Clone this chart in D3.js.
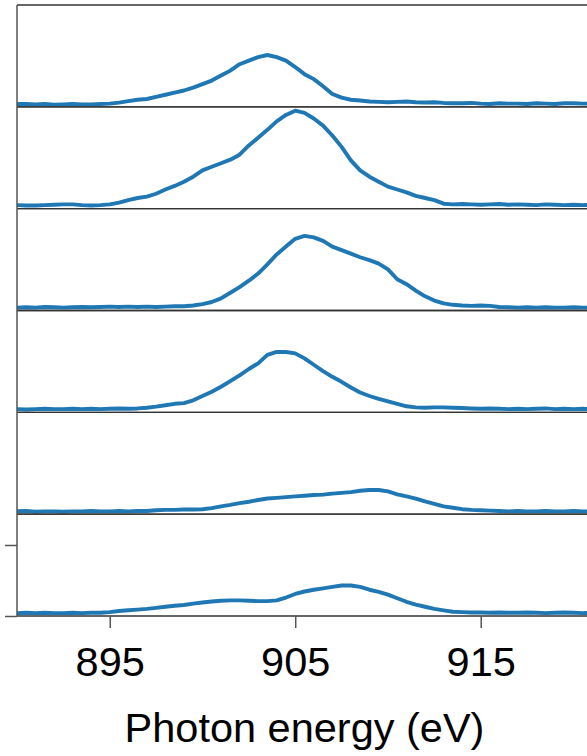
<!DOCTYPE html>
<html>
<head>
<meta charset="utf-8">
<script src="https://cdn.jsdelivr.net/npm/d3@7"></script>
<style>
  html, body { margin: 0; padding: 0; background: #fff; }
  svg { display: block; }
  text { font-family: "Liberation Sans", Arial, Helvetica, sans-serif; fill: #000; }
</style>
</head>
<body>
<svg id="chart" width="587" height="756"></svg>
<script>
// ---- data ----
const energyStart = 890, energyStep = 0.5; // grid: 890 ... 921 eV
const energies = d3.range(63).map(i => energyStart + i * energyStep);

const spectrum1 = [0.04,0.04,0.035,0.04,0.03,0.035,0.04,0.035,0.035,0.04,0.045,0.06,0.08,0.10,0.11,0.14,0.17,0.20,0.23,0.27,0.32,0.37,0.44,0.51,0.60,0.65,0.70,0.73,0.70,0.65,0.56,0.46,0.39,0.29,0.18,0.13,0.10,0.09,0.075,0.07,0.065,0.07,0.075,0.065,0.06,0.065,0.055,0.05,0.05,0.055,0.045,0.04,0.05,0.045,0.045,0.04,0.05,0.045,0.04,0.05,0.05,0.045,0.045];
const spectrum2 = [0.05,0.045,0.045,0.05,0.055,0.06,0.06,0.05,0.045,0.05,0.06,0.085,0.12,0.15,0.17,0.21,0.27,0.32,0.38,0.45,0.54,0.59,0.64,0.69,0.76,0.89,1.00,1.11,1.23,1.32,1.38,1.35,1.27,1.17,1.03,0.87,0.68,0.54,0.45,0.38,0.31,0.27,0.23,0.18,0.15,0.12,0.07,0.06,0.065,0.06,0.055,0.06,0.065,0.055,0.06,0.055,0.05,0.06,0.055,0.05,0.055,0.05,0.055];
const spectrum3 = [0.04,0.045,0.04,0.05,0.045,0.04,0.045,0.05,0.045,0.05,0.055,0.05,0.055,0.05,0.055,0.05,0.055,0.06,0.06,0.07,0.09,0.12,0.17,0.25,0.33,0.42,0.52,0.65,0.79,0.90,1.01,1.05,1.03,0.98,0.90,0.85,0.80,0.75,0.71,0.66,0.58,0.44,0.37,0.28,0.20,0.14,0.10,0.08,0.07,0.065,0.07,0.065,0.05,0.045,0.04,0.045,0.04,0.045,0.04,0.04,0.045,0.04,0.04];
const spectrum4 = [0.045,0.04,0.045,0.05,0.045,0.045,0.05,0.045,0.05,0.045,0.05,0.055,0.05,0.055,0.065,0.08,0.10,0.12,0.13,0.17,0.23,0.29,0.36,0.44,0.52,0.61,0.69,0.81,0.85,0.85,0.83,0.76,0.67,0.58,0.50,0.43,0.35,0.28,0.23,0.19,0.155,0.12,0.085,0.07,0.065,0.07,0.07,0.065,0.06,0.055,0.05,0.055,0.05,0.045,0.05,0.045,0.05,0.055,0.045,0.05,0.045,0.05,0.045];
const spectrum5 = [0.04,0.045,0.035,0.04,0.04,0.035,0.04,0.04,0.045,0.04,0.04,0.045,0.04,0.045,0.045,0.055,0.06,0.06,0.065,0.065,0.07,0.085,0.11,0.13,0.155,0.175,0.20,0.22,0.23,0.24,0.25,0.26,0.27,0.275,0.29,0.30,0.31,0.33,0.34,0.34,0.32,0.28,0.25,0.22,0.18,0.145,0.11,0.09,0.07,0.06,0.055,0.05,0.045,0.04,0.045,0.04,0.04,0.045,0.04,0.04,0.045,0.04,0.04];
const spectrum6 = [0.04,0.045,0.04,0.045,0.04,0.04,0.045,0.04,0.045,0.045,0.055,0.07,0.08,0.09,0.10,0.115,0.13,0.145,0.155,0.175,0.19,0.205,0.215,0.22,0.22,0.215,0.21,0.21,0.22,0.26,0.31,0.345,0.37,0.39,0.41,0.43,0.43,0.41,0.37,0.34,0.30,0.25,0.20,0.16,0.13,0.10,0.08,0.06,0.055,0.05,0.05,0.045,0.05,0.045,0.045,0.05,0.045,0.04,0.045,0.05,0.045,0.04,0.045];
const spectra = [spectrum1, spectrum2, spectrum3, spectrum4, spectrum5, spectrum6];

const xDomain = [890, 921];
const xTicks = [895, 905, 915];
const yDomain = [0, 1.434];
const yTicks = [0, 1];
const xLabel = "Photon energy (eV)";

// ---- layout ----
const W = 587, H = 756;
const mLeft = 17, mRight = 592, mTop = 5, mBottom = 616;
const nPanels = spectra.length;
const panelH = (mBottom - mTop) / nPanels;
const lineColor = "#1f77b4";
const fontSize = 41.5;

const svg = d3.select("#chart");
const x = d3.scaleLinear().domain(xDomain).range([mLeft, mRight]);

spectra.forEach((vals, i) => {
  const pTop = mTop + i * panelH, pBot = pTop + panelH;
  const y = d3.scaleLinear().domain(yDomain).range([pBot, pTop]);
  const clipId = "clip" + i;
  svg.append("clipPath").attr("id", clipId)
    .append("rect").attr("x", mLeft).attr("y", pTop - 2).attr("width", mRight - mLeft).attr("height", panelH + 2);
  const line = d3.line().x((d, j) => x(energies[j])).y(d => y(d));
  svg.append("path")
    .datum(vals)
    .attr("clip-path", `url(#${clipId})`)
    .attr("fill", "none")
    .attr("stroke", lineColor)
    .attr("stroke-width", 3.9)
    .attr("stroke-linejoin", "round")
    .attr("stroke-linecap", "round")
    .attr("d", line);
});

// spines
spectra.forEach((vals, i) => {
  const pTop = mTop + i * panelH, pBot = pTop + panelH;
  const y = d3.scaleLinear().domain(yDomain).range([pBot, pTop]);
  svg.append("line").attr("x1", mLeft).attr("x2", W).attr("y1", pTop).attr("y2", pTop)
    .attr("stroke", "#333").attr("stroke-width", 1.3);
  svg.append("line").attr("x1", mLeft).attr("x2", W).attr("y1", pBot).attr("y2", pBot)
    .attr("stroke", "#333").attr("stroke-width", 1.3);
  if (i === nPanels - 1) {
    const yAxis = d3.axisLeft(y).tickValues(yTicks).tickSize(12).tickFormat("");
    const g = svg.append("g").attr("transform", `translate(${mLeft},0)`).call(yAxis);
    g.select(".domain").remove();
    g.selectAll(".tick line").attr("stroke", "#555").attr("stroke-width", 1.5);
  }
});
// left spine
svg.append("line").attr("x1", mLeft).attr("x2", mLeft).attr("y1", mTop).attr("y2", mBottom)
  .attr("stroke", "#555").attr("stroke-width", 1.5);

// x axis
const xAxis = d3.axisBottom(x).tickValues(xTicks).tickSize(12).tickPadding(8).tickFormat(d3.format("d"));
const gx = svg.append("g").attr("transform", `translate(0,${mBottom})`).call(xAxis);
gx.select(".domain").remove();
gx.selectAll(".tick line").attr("stroke", "#555").attr("stroke-width", 1.5);
gx.selectAll(".tick text")
  .attr("font-size", fontSize)
  .attr("font-family", "Liberation Sans, Arial, sans-serif")
  .attr("fill", "#000")
  .attr("dy", null)
  .attr("y", 60);

svg.append("text")
  .attr("x", (mLeft + mRight) / 2)
  .attr("y", 742)
  .attr("text-anchor", "middle")
  .attr("font-size", fontSize)
  .text(xLabel);
</script>
</body>
</html>
